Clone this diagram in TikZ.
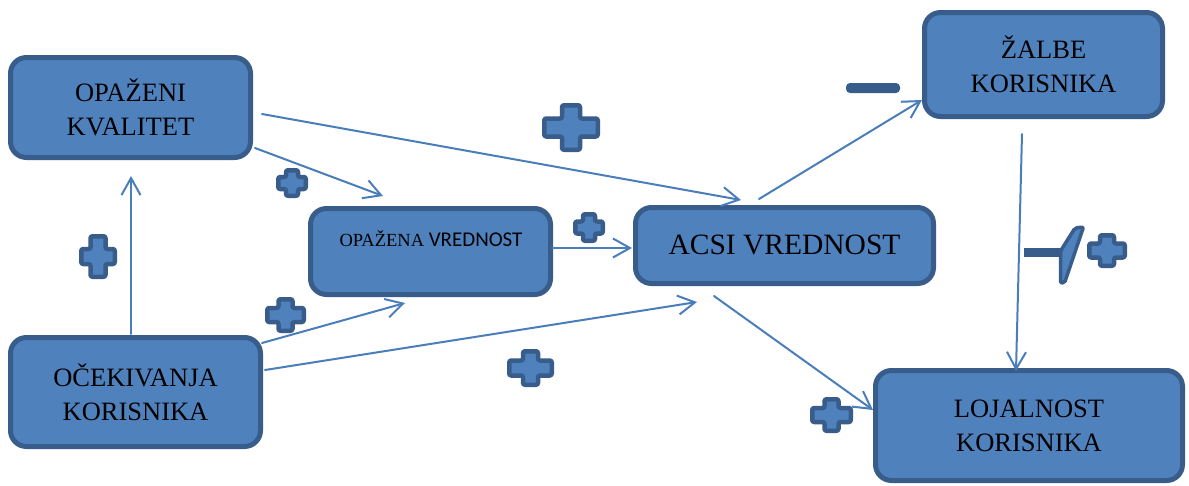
\documentclass[tikz,border=0pt]{standalone}
\usepackage{fontspec}
\setmainfont{Liberation Serif}
\newfontfamily\calibfont{Carlito}
\usetikzlibrary{arrows.meta,calc}

\definecolor{boxfill}{HTML}{4F81BD}
\definecolor{boxline}{HTML}{385D8A}
\definecolor{connline}{HTML}{4A7EBB}

\tikzset{
  box/.style={draw=boxline, fill=boxfill, line width=5pt, rounded corners=16pt,
    inner sep=0pt, outer sep=0pt, align=center, text=black,
    font=\fontsize{26.5}{34}\selectfont},
  conn/.style={draw=connline, line width=2pt, line cap=round,
    -{Straight Barb[length=17pt,width=19pt,line width=2pt]}},
  plusmk/.style={draw=boxline, fill=boxfill, line width=4.5pt, rounded corners=2pt, line join=round},
  minusmk/.style={fill=boxline, draw=none},
}

% two centred lines of box text, lifted a little
\newcommand\twolines[3]{\raisebox{#3pt}{\parbox{200pt}{\centering #1\\#2}}}

% plus sign: centre x, centre y, outer width, outer height, arm thickness
\newcommand\plusmark[5]{%
  \pgfmathsetmacro\plA{#3/2-2.25}%
  \pgfmathsetmacro\plB{#4/2-2.25}%
  \pgfmathsetmacro\plS{#5/2}%
  \begin{scope}[shift={(#1,#2)}]
    \draw[plusmk] (-\plA,-\plS) -- (-\plS,-\plS) -- (-\plS,-\plB) -- (\plS,-\plB)
      -- (\plS,-\plS) -- (\plA,-\plS) -- (\plA,\plS) -- (\plS,\plS) -- (\plS,\plB)
      -- (-\plS,\plB) -- (-\plS,\plS) -- (-\plA,\plS) -- cycle;
  \end{scope}}

\begin{document}
\begin{tikzpicture}[x=1pt,y=-1pt]
\useasboundingbox (0,0) rectangle (1189,485);
\fill[white] (0,0) rectangle (1189,485);

% boxes
\node[box, minimum width=240pt, minimum height=100pt] (kval) at (130.5,107.5) {\twolines{OPAŽENI}{KVALITET}{3}};
\node[box, minimum width=240pt, minimum height=86pt] (opv) at (430.5,251.5) {};
\node[anchor=center, inner sep=0pt] (opvtext) at (431,239)
  {\fontsize{18.5}{20}\selectfont OPAŽENA \calibfont\fontsize{21}{22}\selectfont VREDNOST};
\node[box, minimum width=298pt, minimum height=76pt, font=\fontsize{29.5}{34}\selectfont] (acsi) at (784.5,245.5) {\raisebox{2pt}{ACSI VREDNOST}};
\node[box, minimum width=238pt, minimum height=104pt] (zalbe) at (1043.5,64.5) {\twolines{ŽALBE}{KORISNIKA}{3}};
\node[box, minimum width=250pt, minimum height=109pt] (ocek) at (135.5,392) {\twolines{OČEKIVANJA}{KORISNIKA}{5}};
\node[box, minimum width=307pt, minimum height=110pt] (loj) at (1029,425.5) {\twolines{LOJALNOST}{KORISNIKA}{7}};

% connectors
\draw[conn] ($(kval.center)+(131.5,6.5)$) -- ($(acsi.center)+(-43.5,-45.5)$);
\draw[conn] ($(kval.center)+(124.5,40.5)$) -- ($(opv.center)+(-47.5,-55.5)$);
\draw[conn] ($(ocek.center)+(-4.5,-58)$) -- ($(kval.center)+(0.5,68.5)$);
\draw[conn] ($(ocek.center)+(126.5,-49)$) -- ($(opv.center)+(-25.5,51.5)$);
\draw[conn] ($(ocek.center)+(129.5,-22)$) -- ($(acsi.center)+(-87.5,56.5)$);
\draw[conn] ($(opv.center)+(121.5,-3.5)$) -- ($(acsi.center)+(-152.5,2.5)$);
\draw[conn] ($(acsi.center)+(-25.5,-46.5)$) -- ($(zalbe.center)+(-121.5,35.5)$);
\draw[conn] ($(acsi.center)+(-70.5,50.5)$) -- ($(loj.center)+(-156,-15.5)$);
\draw[conn] ($(zalbe.center)+(-21.5,69.5)$) -- ($(loj.center)+(-13,-54.5)$);

% signs
\plusmark{292}{183}{32}{30}{12}
\plusmark{98}{256.5}{38}{45}{15}
\plusmark{285.5}{315}{41}{36}{14}
\plusmark{589}{227.5}{32}{31}{12}
\plusmark{530.5}{368}{47}{38}{15}
\plusmark{571}{127.5}{58}{49}{18}
\plusmark{831.5}{415}{43}{36}{14}
\plusmark{1107}{250.5}{40}{35}{14}

\fill[minusmk, rounded corners=4pt] (846,83) rectangle (900,93);
\fill[minusmk] (1024,248) rectangle (1061,257);
\draw[plusmk, line width=3.5pt] (1060.5,283) -- (1060.5,251) -- (1075,228) -- (1083.5,227) -- (1064.5,283) -- cycle;
\end{tikzpicture}
\end{document}
